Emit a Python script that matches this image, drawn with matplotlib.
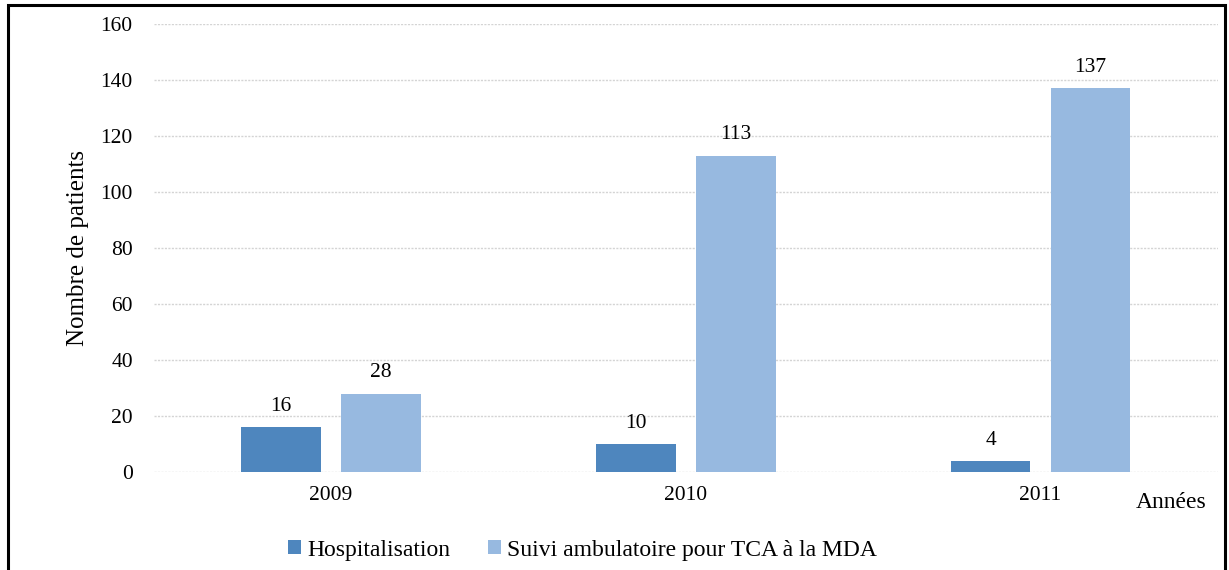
import matplotlib
matplotlib.use("Agg")
import matplotlib.pyplot as plt
from matplotlib.patches import Rectangle
import numpy as np

plt.rcParams['font.family'] = ['Liberation Serif', 'DejaVu Serif']

years = ["2009", "2010", "2011"]
hospitalisation = [16, 10, 4]
suivi = [28, 113, 137]
series_names = ["Hospitalisation", "Suivi ambulatoire pour TCA à la MDA"]
colors = ["#4E86BE", "#97B9E0"]

fig = plt.figure(figsize=(12.29, 5.70), dpi=100)
ax = fig.add_axes([0.125, 0.172, 0.866, 0.786])

x = np.arange(len(years))
w = 0.225
off = 0.141
b1 = ax.bar(x - off, hospitalisation, w, color=colors[0], label=series_names[0], zorder=3)
b2 = ax.bar(x + off, suivi, w, color=colors[1], label=series_names[1], zorder=3)

for bars, vals in ((b1, hospitalisation), (b2, suivi)):
    for r, v in zip(bars, vals):
        ax.annotate(str(v), (r.get_x() + r.get_width() / 2, v), xytext=(0, 8),
                    textcoords="offset points", ha="center", va="bottom", fontsize=15.5)

ax.set_xlim(-0.5, 2.5)
ax.set_ylim(0, 160)
ax.set_yticks(range(0, 161, 20))
ax.set_xticks(x)
ax.set_xticklabels(years)
ax.tick_params(axis='both', length=0, labelsize=15.5)
ax.tick_params(axis='y', pad=15)
ax.tick_params(axis='x', pad=10)
for s in ax.spines.values():
    s.set_visible(False)
ax.grid(axis='y', color='#d4d4d4', linewidth=1.0, linestyle=(0, (1.5, 1)), zorder=0)
ax.set_axisbelow(True)

ax.set_ylabel("Nombre de patients", fontsize=18, labelpad=8)
fig.text(0.953, 0.118, "Années", fontsize=17, ha="center", va="center")

fig.legend(handles=[b1, b2], loc="center", bbox_to_anchor=(0.474, 0.035), ncol=2,
           frameon=False, fontsize=17, handlelength=0.55, handleheight=0.55,
           handletextpad=0.25, columnspacing=1.6)

fig.patches.append(Rectangle((8 / 1229, -0.05), (1225 - 8) / 1229, 1.05 - 5 / 570,
                             transform=fig.transFigure, fill=False, edgecolor='black',
                             linewidth=2.2, clip_on=False))

fig.savefig("out.png", dpi=100)
